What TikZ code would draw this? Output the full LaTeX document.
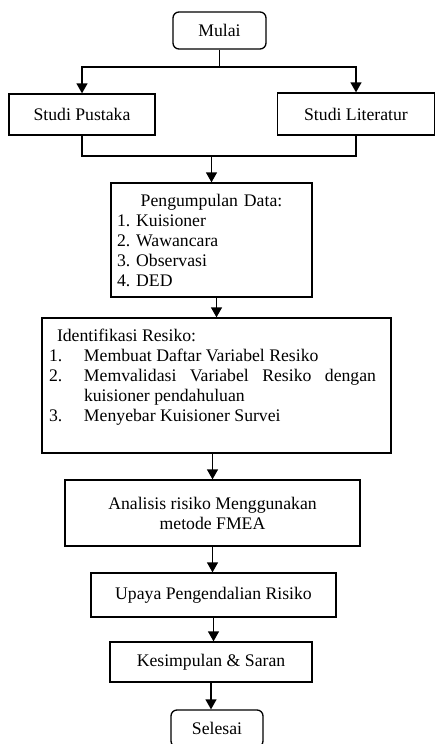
\documentclass[tikz,border=0pt]{standalone}
\usepackage{fontspec}
\setmainfont{Liberation Serif}
\usetikzlibrary{arrows.meta}
\setlength{\parindent}{0pt}
\frenchspacing

\tikzset{
  box/.style={rectangle, draw, line width=1.3pt, inner sep=0pt, font=\fontsize{17.7}{20}\selectfont},
  terminal/.style={box, rounded corners=6pt},
  line/.style={line width=1.3pt},
  arrow/.style={line width=1.3pt, -{Triangle[length=10pt, width=11pt]}}
}

\begin{document}
\begin{tikzpicture}[x=1pt, y=-1pt]
    \useasboundingbox (0,0) rectangle (435,744);

    % Draw nodes
    \node[terminal, minimum width=93pt, minimum height=37pt] (mulai) at (219.5,30.5) {Mulai};
    \node[box, minimum width=146pt, minimum height=41pt] (pustaka) at (82,114.5) {Studi Pustaka};
    \node[box, minimum width=157pt, minimum height=42pt] (literatur) at (356,114) {Studi Literatur};
    \node[box, minimum width=201pt, minimum height=114pt, text width=189pt, inner xsep=6pt, align=left] (data) at (211.5,240)
        {\makebox[189pt]{Pengumpulan Data:}\\1. Kuisioner\\2. Wawancara\\3. Observasi\\4. DED};
    \node[box, minimum width=349pt, minimum height=135pt, text width=335pt, inner xsep=7pt, align=justify] (identifikasi) at (216.5,385.5)
        {\rightskip=8pt\relax
         \hspace*{8pt}Identifikasi Resiko:\par
         \hangindent=35pt\hangafter=1\makebox[35pt][l]{1.}Membuat Daftar Variabel Resiko\par
         \hangindent=35pt\hangafter=1\makebox[35pt][l]{2.}Memvalidasi Variabel Resiko dengan\linebreak kuisioner pendahuluan\par
         \hangindent=35pt\hangafter=1\makebox[35pt][l]{3.}Menyebar Kuisioner Survei\par
         \mbox{}};
    \node[box, minimum width=295pt, minimum height=66pt, align=center] (analisis) at (212.5,513) {Analisis risiko Menggunakan\\metode FMEA};
    \node[box, minimum width=245pt, minimum height=44pt] (upaya) at (213.5,595) {Upaya Pengendalian Risiko};
    \node[box, minimum width=202pt, minimum height=40pt] (kesimpulan) at (211,662) {Kesimpulan \& Saran};
    \node[terminal, minimum width=92pt, minimum height=37pt] (selesai) at (217,728.5) {Selesai};

    % Draw connections
    \coordinate (split) at (mulai.south |- 0,67);
    \draw[line] (mulai.south) -- (split);
    \draw[arrow] (split) -| (pustaka.north);
    \draw[arrow] (split) -| (literatur.north);
    \coordinate (join) at (data.north |- 0,156);
    \draw[line] (pustaka.south) |- (join) -| (literatur.south);
    \draw[arrow] (join) -- (data.north);
    \draw[arrow] (identifikasi.north |- data.south) -- (identifikasi.north);
    \draw[arrow] (analisis.north |- identifikasi.south) -- (analisis.north);
    \draw[arrow] (analisis.south) -- (analisis.south |- upaya.north);
    \draw[arrow] (upaya.south) -- (upaya.south |- kesimpulan.north);
    \draw[arrow] (kesimpulan.south) -- (kesimpulan.south |- selesai.north);
\end{tikzpicture}
\end{document}
